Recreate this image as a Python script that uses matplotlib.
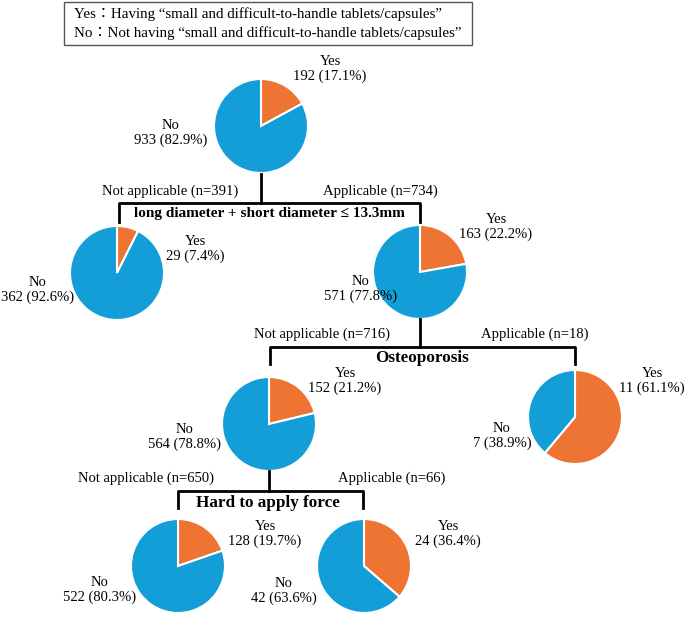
import matplotlib.pyplot as plt
from matplotlib.patches import Rectangle

plt.rcParams['font.family'] = ['Liberation Serif', 'Noto Sans CJK JP', 'DejaVu Serif']

# datos de cada nodo del arbol (Yes / No)
yes_counts = [192, 29, 163, 152, 11, 128, 24]
no_counts = [933, 362, 571, 564, 7, 522, 42]
yes_pct = ['17.1%', '7.4%', '22.2%', '21.2%', '61.1%', '19.7%', '36.4%']
no_pct = ['82.9%', '92.6%', '77.8%', '78.8%', '38.9%', '80.3%', '63.6%']

# divisiones: titulo, n no aplicable, n aplicable
split_names = ['long diameter + short diameter \u2264 13.3mm', 'Osteoporosis', 'Hard to apply force']
split_not = [391, 716, 650]
split_app = [734, 18, 66]

legend_lines = ['Yes\uff1aHaving \u201csmall and difficult-to-handle tablets/capsules\u201d',
                'No\uff1aNot having \u201csmall and difficult-to-handle tablets/capsules\u201d']

# layout en pixeles (x, y desde arriba)
centros = [(261, 126), (117, 273), (420, 272), (269, 424), (575, 417), (178, 566), (364, 566)]
pos_yes = [(330, 69), (195, 249), (496, 227), (345, 381), (652, 381), (265, 534), (448, 534)]
pos_no = [(171, 133), (38, 290), (361, 289), (185, 437), (502, 436), (100, 590), (284, 591)]
radio = 47
# (x centro, x izq, x der, y linea, y barra, y fin de ticks)
ramas = [(261, 119, 420, 174, 203, 222),
         (420, 270, 575, 319, 347, 364),
         (269, 178, 363, 471, 491, 508)]
pos_not = [(170, 191), (322, 334), (146, 478)]
pos_app = [(380, 191), (535, 334), (392, 478)]
pos_title = [(269, 213), (422, 358), (268, 503)]
fs_title = [11, 12.3, 12.3]

naranja = '#ED7432'
azul = '#139ED8'
fs = 10.5

fig = plt.figure(figsize=(6.85, 6.17), dpi=100)
ax = fig.add_axes([0, 0, 1, 1])

for i in range(len(yes_counts)):
    ax.pie([yes_counts[i], no_counts[i]], colors=[naranja, azul], center=centros[i],
           radius=radio, startangle=-90, counterclock=True,
           wedgeprops=dict(edgecolor='white', linewidth=1.5))
    ax.text(*pos_yes[i], 'Yes\n%d (%s)' % (yes_counts[i], yes_pct[i]),
            ha='center', va='center', fontsize=fs, linespacing=1.2)
    ax.text(*pos_no[i], 'No\n%d (%s)' % (no_counts[i], no_pct[i]),
            ha='center', va='center', fontsize=fs, linespacing=1.2)

for i, (xc, xl, xr, y0, yb, yt) in enumerate(ramas):
    ax.plot([xc, xc], [y0, yb], color='black', lw=2)
    ax.plot([xl, xl, xr, xr], [yt, yb, yb, yt], color='black', lw=2)
    ax.text(*pos_not[i], 'Not applicable (n=%d)' % split_not[i], ha='center', va='center', fontsize=fs)
    ax.text(*pos_app[i], 'Applicable (n=%d)' % split_app[i], ha='center', va='center', fontsize=fs)
    ax.text(*pos_title[i], split_names[i], ha='center', va='center', fontsize=fs_title[i],
            fontweight='bold')

# cuadro de leyenda
ax.add_patch(Rectangle((64, 2), 408, 43, fill=False, edgecolor='#555555', lw=1))
ax.text(74, 14, legend_lines[0], ha='left', va='center', fontsize=10.8)
ax.text(74, 33, legend_lines[1], ha='left', va='center', fontsize=10.8)

ax.set_xlim(0, 685)
ax.set_ylim(617, 0)
ax.set_aspect('auto')
ax.axis('off')

plt.savefig('out.png', dpi=100)
